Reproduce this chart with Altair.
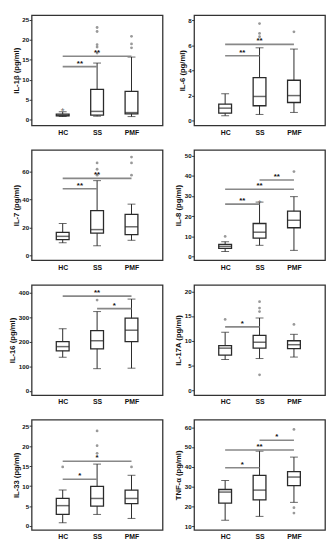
import altair as alt
import pandas as pd

GROUPS = ["HC", "SS", "PMF"]

# five-number summaries per group: [lower whisker, Q1, median, Q3, upper whisker]
IL1B_STATS = [[0.8, 1.0, 1.1, 1.4, 2.0], [0.9, 1.15, 2.1, 7.6, 14.2], [0.8, 1.5, 1.8, 7.1, 15.7]]
IL1B_OUT = [["HC", 2.8, "*"], ["SS", 23.1, "o"], ["SS", 22.1, "o"], ["SS", 18.8, "o"], ["SS", 18.2, "o"],
            ["SS", 16.7, "o"], ["PMF", 20.9, "o"], ["PMF", 19.0, "o"], ["PMF", 18.0, "o"]]
IL1B_SIG = [["HC", "SS", 13.3, "**"], ["HC", "PMF", 15.9, "**"]]
IL1B_DOMAIN = [-1.4, 26.2]
IL1B_TICKS = [0, 5, 10, 15, 20, 25]

IL6_STATS = [[0.4, 0.6, 1.0, 1.32, 2.14], [0.5, 1.19, 1.93, 3.43, 5.8], [0.66, 1.45, 2.0, 3.22, 5.7]]
IL6_OUT = [["SS", 7.73, "o"], ["SS", 6.94, "o"], ["SS", 6.68, "o"], ["PMF", 7.07, "o"]]
IL6_SIG = [["HC", "SS", 5.17, "**"], ["HC", "PMF", 6.07, "**"]]
IL6_DOMAIN = [-0.37, 8.4]
IL6_TICKS = [0, 2, 4, 6, 8]

IL7_STATS = [[9.2, 11.5, 13.8, 16.7, 22.9], [7.1, 16.1, 18.6, 32.1, 53.4], [11.0, 15.1, 20.6, 29.4, 36.7]]
IL7_OUT = [["SS", 66.0, "o"], ["SS", 61.5, "o"], ["SS", 57.3, "o"],
           ["PMF", 70.2, "o"], ["PMF", 66.0, "o"], ["PMF", 57.3, "o"]]
IL7_SIG = [["HC", "SS", 47.7, "**"], ["HC", "PMF", 55.0, "**"]]
IL7_DOMAIN = [-3.2, 75.2]
IL7_TICKS = [0, 20, 40, 60]

IL8_STATS = [[2.5, 4.1, 5.1, 6.1, 7.4], [5.6, 9.2, 12.1, 16.4, 27.0], [3.1, 14.3, 18.0, 22.5, 29.7]]
IL8_OUT = [["HC", 10.0, "o"], ["SS", 27.3, "*"], ["PMF", 42.1, "o"]]
IL8_SIG = [["HC", "SS", 26.0, "**"], ["HC", "PMF", 33.4, "**"], ["SS", "PMF", 37.9, "**"]]
IL8_DOMAIN = [-1.8, 52.8]
IL8_TICKS = [0, 10, 20, 30, 40, 50]

IL16_STATS = [[138, 164, 181, 201, 254], [91, 172, 205, 246, 324], [93, 201, 248, 297, 375]]
IL16_OUT = [["SS", 371, "o"]]
IL16_SIG = [["HC", "PMF", 387, "**"], ["SS", "PMF", 336, "*"]]
IL16_DOMAIN = [-17, 433]
IL16_TICKS = [0, 100, 200, 300, 400]

IL17A_STATS = [[6.2, 7.1, 8.5, 9.0, 11.7], [6.4, 8.5, 9.7, 11.1, 14.6], [6.7, 8.4, 9.2, 10.0, 11.3]]
IL17A_OUT = [["HC", 14.3, "o"], ["SS", 17.9, "o"], ["SS", 16.6, "o"], ["SS", 15.9, "o"], ["SS", 3.1, "o"],
             ["PMF", 13.3, "o"]]
IL17A_SIG = [["HC", "SS", 12.8, "*"]]
IL17A_DOMAIN = [-1.0, 21.3]
IL17A_TICKS = [0, 5, 10, 15, 20]

IL33_STATS = [[0.8, 2.9, 5.1, 6.9, 9.0], [2.9, 5.0, 6.9, 9.9, 15.5], [1.9, 5.6, 6.9, 9.0, 12.7]]
IL33_OUT = [["HC", 14.8, "o"], ["SS", 23.8, "o"], ["SS", 20.1, "o"], ["SS", 18.2, "o"], ["PMF", 14.8, "o"]]
IL33_SIG = [["HC", "SS", 11.7, "*"], ["HC", "PMF", 16.2, "*"]]
IL33_DOMAIN = [-1.0, 26.6]
IL33_TICKS = [0, 5, 10, 15, 20, 25]

TNF_STATS = [[13.0, 21.6, 27.2, 28.5, 33.0], [14.9, 23.3, 28.2, 35.6, 47.9], [22.0, 30.5, 34.8, 37.5, 44.9]]
TNF_OUT = [["PMF", 58.9, "o"], ["PMF", 19.3, "o"], ["PMF", 16.6, "o"]]
TNF_SIG = [["HC", "SS", 39.5, "*"], ["HC", "PMF", 48.5, "**"], ["SS", "PMF", 53.4, "*"]]
TNF_DOMAIN = [8.0, 63.8]
TNF_TICKS = [10, 20, 30, 40, 50, 60]

PANELS = [
    ("IL-1β (pg/ml)", IL1B_STATS, IL1B_OUT, IL1B_SIG, IL1B_DOMAIN, IL1B_TICKS),
    ("IL-6 (pg/ml)", IL6_STATS, IL6_OUT, IL6_SIG, IL6_DOMAIN, IL6_TICKS),
    ("IL-7 (pg/ml)", IL7_STATS, IL7_OUT, IL7_SIG, IL7_DOMAIN, IL7_TICKS),
    ("IL-8 (pg/ml)", IL8_STATS, IL8_OUT, IL8_SIG, IL8_DOMAIN, IL8_TICKS),
    ("IL-16 (pg/ml)", IL16_STATS, IL16_OUT, IL16_SIG, IL16_DOMAIN, IL16_TICKS),
    ("IL-17A (pg/ml)", IL17A_STATS, IL17A_OUT, IL17A_SIG, IL17A_DOMAIN, IL17A_TICKS),
    ("IL-33 (pg/ml)", IL33_STATS, IL33_OUT, IL33_SIG, IL33_DOMAIN, IL33_TICKS),
    ("TNF-α (pg/ml)", TNF_STATS, TNF_OUT, TNF_SIG, TNF_DOMAIN, TNF_TICKS),
]

FONT = "Liberation Sans"
INK = "#2a2a2a"
XDOM = [-0.76, 2.76]
LABEL_EXPR = "[" + ",".join("'%s'" % g for g in GROUPS) + "][datum.value]"


def panel(title, stats, outs, sig, domain, ticks):
    box = pd.DataFrame({
        "pos": list(range(len(GROUPS))),
        "lo": [s[0] for s in stats],
        "q1": [s[1] for s in stats],
        "med": [s[2] for s in stats],
        "q3": [s[3] for s in stats],
        "hi": [s[4] for s in stats],
    })
    out = pd.DataFrame({
        "pos": [GROUPS.index(o[0]) for o in outs],
        "v": [o[1] for o in outs],
        "kind": [o[2] for o in outs],
    })
    sg = pd.DataFrame({
        "x1": [GROUPS.index(s[0]) for s in sig],
        "x2": [GROUPS.index(s[1]) for s in sig],
        "xm": [(GROUPS.index(s[0]) + GROUPS.index(s[1])) / 2 for s in sig],
        "y": [s[2] for s in sig],
        "lab": [s[3] for s in sig],
    })

    xsc = alt.Scale(domain=XDOM, nice=False, zero=False)
    ysc = alt.Scale(domain=domain, nice=False, zero=False)
    xax = alt.Axis(values=list(range(len(GROUPS))), labelExpr=LABEL_EXPR, title=None,
                   ticks=False, labelPadding=3, labelFontSize=7)
    yax = alt.Axis(values=ticks, title=title)

    def X(f):
        return alt.X(f, scale=xsc, axis=xax)

    def Y(f):
        return alt.Y(f, scale=ysc, axis=yax)

    whisk = alt.Chart(box).mark_rule(color=INK, strokeWidth=1).encode(
        x=X("pos:Q"), y=Y("lo:Q"), y2="hi:Q")
    caps = alt.Chart(box).transform_fold(["lo", "hi"], as_=["k", "val"]).mark_tick(
        orient="horizontal", size=8, thickness=1, color=INK).encode(x=X("pos:Q"), y=Y("val:Q"))
    rect = alt.Chart(box).mark_bar(size=13, fill="white", stroke=INK, strokeWidth=1.3).encode(
        x=X("pos:Q"), y=Y("q1:Q"), y2="q3:Q")
    med = alt.Chart(box).mark_tick(orient="horizontal", size=13, thickness=1.5, color=INK).encode(
        x=X("pos:Q"), y=Y("med:Q"))
    dots = alt.Chart(out).transform_filter("datum.kind == 'o'").mark_point(
        filled=True, size=8, color="#999999", opacity=1).encode(x=X("pos:Q"), y=Y("v:Q"))
    stars = alt.Chart(out).transform_filter("datum.kind == '*'").mark_text(
        text="*", fontSize=10, color="#777777", baseline="middle", dy=2, font=FONT).encode(
        x=X("pos:Q"), y=Y("v:Q"))
    lines = alt.Chart(sg).mark_rule(color="#888888", strokeWidth=1.6).encode(
        x=X("x1:Q"), x2="x2:Q", y=Y("y:Q"))
    labs = alt.Chart(sg).mark_text(fontSize=8, fontWeight="bold", baseline="bottom", dy=1,
                                   font=FONT, color="#111111").encode(
        x=X("xm:Q"), y=Y("y:Q"), text="lab:N")

    return alt.layer(whisk, caps, rect, med, dots, stars, lines, labs).properties(width=133, height=112)


charts = [panel(*p) for p in PANELS]

chart = alt.concat(*charts, columns=2, spacing={"row": 13, "column": 10}).properties(
    padding={"left": 0, "top": 2, "right": 0, "bottom": 0}
).configure_view(
    stroke="#333333", strokeWidth=1.3
).configure_axis(
    labelFont=FONT, titleFont=FONT, labelFontSize=6.3, titleFontSize=7.8,
    labelFontWeight="bold", titleFontWeight="bold", labelColor="#111111", titleColor="#111111",
    tickSize=2.5, tickColor="#333333", labelPadding=0.5, titlePadding=1.5,
    domain=False, grid=False
)

chart.save("out.html", embed_options={"renderer": "svg", "actions": False})
